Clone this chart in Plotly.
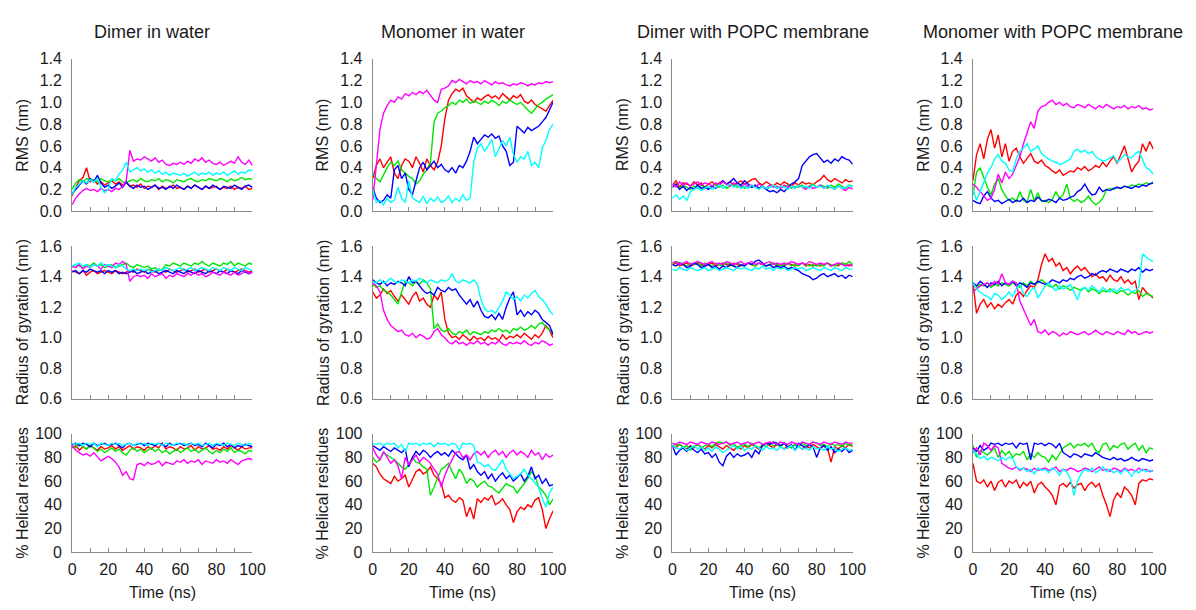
import plotly.graph_objects as go

# ---------------- time axis (ns) ----------------
T = list(range(0, 101, 2))

COL_TITLES = ["Dimer in water", "Monomer in water", "Dimer with POPC membrane", "Monomer with POPC membrane"]
ROW_TITLES = ["RMS (nm)", "Radius of gyration (nm)", "% Helical residues"]
X_TITLE = "Time (ns)"
SERIES = ["red", "green", "blue", "magenta", "cyan"]
COLORS = {"red": "#ff0000", "green": "#00e600", "blue": "#0000ff", "magenta": "#ff00ff", "cyan": "#00ffff"}

# ---------------- Row 1: RMS (nm) ----------------
rms_dw_red = [0.14, 0.22, 0.28, 0.31, 0.40, 0.27, 0.29, 0.25, 0.27, 0.24,
              0.26, 0.28, 0.25, 0.27, 0.24, 0.26, 0.23, 0.24, 0.22, 0.25,
              0.21, 0.23, 0.22, 0.24, 0.20, 0.23, 0.21, 0.22, 0.24, 0.21,
              0.22, 0.20, 0.23, 0.21, 0.24, 0.22, 0.20, 0.23, 0.21, 0.22,
              0.23, 0.20, 0.22, 0.21, 0.23, 0.20, 0.22, 0.21, 0.23, 0.20, 0.21]
rms_dw_green = [0.20, 0.26, 0.29, 0.27, 0.30, 0.28, 0.29, 0.27, 0.30, 0.28,
                0.27, 0.29, 0.28, 0.30, 0.27, 0.26, 0.28, 0.29, 0.27, 0.30,
                0.28, 0.27, 0.29, 0.28, 0.30, 0.27, 0.29, 0.28, 0.26, 0.29,
                0.28, 0.27, 0.29, 0.30, 0.28, 0.27, 0.29, 0.28, 0.30, 0.29,
                0.28, 0.30, 0.29, 0.27, 0.30, 0.28, 0.29, 0.31, 0.29, 0.30, 0.29]
rms_dw_blue = [0.16, 0.20, 0.24, 0.28, 0.25, 0.30, 0.27, 0.33, 0.26, 0.22,
               0.24, 0.21, 0.23, 0.26, 0.22, 0.27, 0.23, 0.21, 0.24, 0.22,
               0.23, 0.20, 0.22, 0.24, 0.21, 0.22, 0.20, 0.23, 0.21, 0.24,
               0.22, 0.20, 0.23, 0.21, 0.24, 0.22, 0.20, 0.23, 0.21, 0.24,
               0.22, 0.20, 0.23, 0.22, 0.21, 0.24, 0.22, 0.20, 0.23, 0.24, 0.22]
rms_dw_magenta = [0.06, 0.12, 0.16, 0.19, 0.21, 0.19, 0.20, 0.18, 0.21, 0.19,
                  0.20, 0.18, 0.21, 0.20, 0.23, 0.28, 0.56, 0.46, 0.48, 0.47,
                  0.50, 0.48, 0.46, 0.49, 0.45, 0.47, 0.43, 0.42, 0.44, 0.43,
                  0.45, 0.43, 0.46, 0.44, 0.48, 0.46, 0.49, 0.45, 0.47, 0.44,
                  0.43, 0.45, 0.42, 0.44, 0.46, 0.44, 0.50, 0.45, 0.43, 0.47, 0.42]
rms_dw_cyan = [0.15, 0.22, 0.25, 0.28, 0.26, 0.29, 0.27, 0.30, 0.22, 0.17,
               0.20, 0.30, 0.28, 0.34, 0.38, 0.45, 0.36, 0.38, 0.40, 0.37,
               0.39, 0.36, 0.38, 0.35, 0.37, 0.34, 0.36, 0.33, 0.35, 0.34,
               0.33, 0.35, 0.32, 0.34, 0.36, 0.33, 0.35, 0.34, 0.36, 0.33,
               0.35, 0.34, 0.36, 0.33, 0.35, 0.37, 0.34, 0.36, 0.35, 0.38, 0.37]

rms_mw_red = [0.30, 0.42, 0.48, 0.40, 0.45, 0.50, 0.35, 0.30, 0.42, 0.48,
              0.46, 0.40, 0.50, 0.44, 0.36, 0.48, 0.42, 0.38, 0.45, 0.60,
              0.85, 1.02, 1.08, 1.12, 1.10, 1.13, 1.06, 1.03, 1.00, 1.04,
              1.02, 1.05, 1.07, 1.04, 1.06, 1.03, 1.08, 1.05, 1.02, 1.06,
              1.04, 1.07, 1.01, 0.99, 1.02, 0.98, 0.96, 0.94, 0.92, 0.97, 1.02]
rms_mw_green = [0.35, 0.30, 0.27, 0.34, 0.40, 0.45, 0.42, 0.46, 0.38, 0.35,
                0.32, 0.30, 0.25, 0.28, 0.34, 0.38, 0.45, 0.82, 0.90, 0.92,
                0.95, 0.97, 1.00, 0.98, 1.02, 1.00, 1.03, 0.99, 1.01, 1.00,
                0.98, 1.01, 0.99, 1.02, 1.00, 0.97, 1.01, 0.99, 1.02, 1.00,
                0.98, 1.00, 0.96, 0.93, 0.90, 0.94, 0.98, 1.00, 1.03, 1.05, 1.07]
rms_mw_blue = [0.22, 0.12, 0.08, 0.10, 0.15, 0.12, 0.38, 0.42, 0.30, 0.35,
               0.20, 0.15, 0.28, 0.40, 0.45, 0.38, 0.42, 0.46, 0.40, 0.43,
               0.38, 0.36, 0.40, 0.35, 0.42, 0.40, 0.46, 0.55, 0.68, 0.62,
               0.66, 0.70, 0.68, 0.71, 0.67, 0.69, 0.60, 0.55, 0.42, 0.45,
               0.78, 0.75, 0.72, 0.77, 0.74, 0.76, 0.78, 0.82, 0.86, 0.93, 1.00]
rms_mw_magenta = [0.10, 0.45, 0.75, 0.90, 0.97, 1.02, 1.00, 1.05, 1.03, 1.08,
                  1.06, 1.09, 1.07, 1.10, 1.08, 1.11, 1.06, 1.02, 1.00, 1.12,
                  1.13, 1.15, 1.20, 1.18, 1.21, 1.19, 1.17, 1.20, 1.18, 1.19,
                  1.17, 1.20, 1.18, 1.16, 1.19, 1.17, 1.18, 1.16, 1.15, 1.17,
                  1.16, 1.18, 1.17, 1.15, 1.17, 1.16, 1.18, 1.17, 1.19, 1.18, 1.19]
rms_mw_cyan = [0.20, 0.08, 0.10, 0.06, 0.12, 0.08, 0.10, 0.22, 0.12, 0.08,
               0.28, 0.12, 0.10, 0.08, 0.14, 0.07, 0.12, 0.09, 0.13, 0.08,
               0.10, 0.14, 0.08, 0.12, 0.09, 0.15, 0.10, 0.12, 0.45, 0.58,
               0.62, 0.55, 0.60, 0.66, 0.50, 0.58, 0.65, 0.60, 0.68, 0.52,
               0.45, 0.50, 0.48, 0.55, 0.42, 0.45, 0.40, 0.58, 0.65, 0.75, 0.80]

rms_dp_red = [0.24, 0.28, 0.22, 0.26, 0.25, 0.23, 0.27, 0.24, 0.26, 0.22,
              0.25, 0.27, 0.24, 0.26, 0.28, 0.25, 0.27, 0.24, 0.26, 0.28,
              0.25, 0.27, 0.29, 0.30, 0.26, 0.24, 0.27, 0.25, 0.23, 0.26,
              0.24, 0.27, 0.25, 0.23, 0.26, 0.24, 0.27, 0.25, 0.26, 0.24,
              0.27, 0.29, 0.33, 0.29, 0.27, 0.30, 0.28, 0.26, 0.29, 0.27, 0.28]
rms_dp_green = [0.22, 0.25, 0.21, 0.24, 0.22, 0.20, 0.23, 0.21, 0.24, 0.22,
                0.21, 0.23, 0.25, 0.22, 0.24, 0.21, 0.23, 0.25, 0.22, 0.24,
                0.21, 0.23, 0.22, 0.24, 0.21, 0.23, 0.20, 0.22, 0.24, 0.21,
                0.23, 0.22, 0.24, 0.21, 0.23, 0.22, 0.24, 0.21, 0.23, 0.25,
                0.22, 0.24, 0.23, 0.21, 0.24, 0.22, 0.25, 0.23, 0.21, 0.24, 0.23]
rms_dp_blue = [0.22, 0.25, 0.20, 0.23, 0.19, 0.22, 0.20, 0.24, 0.21, 0.22,
               0.20, 0.23, 0.21, 0.24, 0.28, 0.25, 0.27, 0.30, 0.26, 0.24,
               0.28, 0.25, 0.22, 0.24, 0.21, 0.23, 0.20, 0.18, 0.19, 0.17,
               0.20, 0.18, 0.22, 0.25, 0.27, 0.30, 0.42, 0.46, 0.50, 0.52,
               0.53, 0.49, 0.45, 0.47, 0.44, 0.48, 0.46, 0.50, 0.48, 0.47, 0.43]
rms_dp_magenta = [0.25, 0.22, 0.27, 0.24, 0.26, 0.23, 0.25, 0.27, 0.24, 0.26,
                  0.25, 0.23, 0.26, 0.24, 0.27, 0.25, 0.23, 0.26, 0.24, 0.22,
                  0.25, 0.23, 0.24, 0.22, 0.25, 0.23, 0.21, 0.24, 0.22, 0.23,
                  0.21, 0.24, 0.22, 0.23, 0.21, 0.24, 0.22, 0.20, 0.23, 0.21,
                  0.22, 0.24, 0.21, 0.23, 0.22, 0.20, 0.23, 0.21, 0.19, 0.22, 0.20]
rms_dp_cyan = [0.12, 0.15, 0.11, 0.14, 0.10, 0.18, 0.20, 0.22, 0.19, 0.21,
               0.23, 0.20, 0.22, 0.24, 0.21, 0.23, 0.25, 0.22, 0.24, 0.21,
               0.23, 0.21, 0.24, 0.22, 0.20, 0.23, 0.21, 0.22, 0.24, 0.21,
               0.23, 0.22, 0.20, 0.23, 0.21, 0.24, 0.22, 0.23, 0.21, 0.24,
               0.22, 0.23, 0.21, 0.24, 0.22, 0.20, 0.23, 0.21, 0.22, 0.24, 0.22]

rms_mp_red = [0.28, 0.52, 0.62, 0.48, 0.66, 0.75, 0.58, 0.70, 0.50, 0.62,
              0.46, 0.55, 0.58, 0.50, 0.44, 0.48, 0.53, 0.46, 0.44, 0.47,
              0.42, 0.40, 0.37, 0.35, 0.38, 0.33, 0.35, 0.37, 0.36, 0.40,
              0.38, 0.41, 0.37, 0.39, 0.42, 0.40, 0.45, 0.41, 0.46, 0.50,
              0.44, 0.52, 0.60, 0.48, 0.36, 0.42, 0.46, 0.62, 0.55, 0.64, 0.57]
rms_mp_green = [0.15, 0.36, 0.40, 0.30, 0.22, 0.15, 0.25, 0.30, 0.20, 0.14,
                0.10, 0.12, 0.09, 0.18, 0.10, 0.08, 0.20, 0.10, 0.17, 0.09,
                0.10, 0.08, 0.11, 0.18, 0.12, 0.15, 0.25, 0.12, 0.09, 0.11,
                0.08, 0.10, 0.14, 0.09, 0.06, 0.08, 0.12, 0.20, 0.21, 0.20,
                0.22, 0.21, 0.23, 0.22, 0.24, 0.23, 0.25, 0.24, 0.26, 0.25, 0.27]
rms_mp_blue = [0.10, 0.08, 0.07, 0.14, 0.18, 0.12, 0.09, 0.10, 0.07, 0.09,
               0.11, 0.08, 0.10, 0.09, 0.12, 0.08, 0.10, 0.09, 0.13, 0.10,
               0.09, 0.11, 0.10, 0.08, 0.12, 0.10, 0.11, 0.13, 0.14, 0.18,
               0.20, 0.25, 0.19, 0.15, 0.16, 0.22, 0.18, 0.20, 0.19, 0.21,
               0.22, 0.21, 0.23, 0.22, 0.21, 0.23, 0.22, 0.24, 0.23, 0.25, 0.26]
rms_mp_magenta = [0.25, 0.22, 0.18, 0.14, 0.10, 0.12, 0.20, 0.34, 0.26, 0.36,
                  0.30, 0.34, 0.42, 0.50, 0.62, 0.72, 0.82, 0.76, 0.92, 0.96,
                  0.97, 1.00, 1.02, 0.98, 1.00, 0.97, 0.99, 0.96, 0.95, 0.98,
                  0.97, 0.95, 0.98, 0.96, 0.94, 0.97, 0.95, 0.98, 0.96, 0.94,
                  0.96, 0.95, 0.97, 0.94, 0.96, 0.95, 0.97, 0.94, 0.95, 0.93, 0.94]
rms_mp_cyan = [0.20, 0.10, 0.18, 0.26, 0.35, 0.40, 0.48, 0.52, 0.46, 0.44,
               0.38, 0.36, 0.48, 0.55, 0.58, 0.62, 0.55, 0.57, 0.60, 0.53,
               0.50, 0.48, 0.46, 0.45, 0.43, 0.44, 0.46, 0.48, 0.55, 0.57,
               0.54, 0.56, 0.53, 0.55, 0.50, 0.48, 0.46, 0.47, 0.49, 0.51,
               0.45, 0.48, 0.52, 0.50, 0.49, 0.53, 0.55, 0.47, 0.40, 0.38, 0.34]

# ---------------- Row 2: Radius of gyration (nm) ----------------
rg_dw_red = [1.44, 1.43, 1.42, 1.44, 1.41, 1.43, 1.44, 1.42, 1.43, 1.44,
             1.43, 1.42, 1.44, 1.43, 1.42, 1.43, 1.44, 1.43, 1.45, 1.44,
             1.43, 1.45, 1.44, 1.43, 1.45, 1.44, 1.43, 1.45, 1.44, 1.43,
             1.44, 1.45, 1.43, 1.44, 1.45, 1.43, 1.44, 1.45, 1.43, 1.44,
             1.45, 1.44, 1.43, 1.45, 1.44, 1.43, 1.44, 1.45, 1.44, 1.43, 1.44]
rg_dw_green = [1.46, 1.48, 1.47, 1.46, 1.48, 1.47, 1.49, 1.47, 1.48, 1.46,
               1.47, 1.48, 1.46, 1.47, 1.48, 1.49, 1.47, 1.46, 1.48, 1.47,
               1.46, 1.47, 1.45, 1.46, 1.44, 1.45, 1.48, 1.47, 1.49, 1.48,
               1.47, 1.49, 1.48, 1.47, 1.49, 1.48, 1.50, 1.48, 1.47, 1.49,
               1.48, 1.47, 1.49, 1.48, 1.50, 1.47, 1.49, 1.48, 1.47, 1.49, 1.48]
rg_dw_blue = [1.43, 1.44, 1.42, 1.44, 1.43, 1.45, 1.44, 1.43, 1.44, 1.42,
              1.44, 1.43, 1.44, 1.42, 1.43, 1.42, 1.43, 1.44, 1.42, 1.43,
              1.44, 1.42, 1.43, 1.44, 1.42, 1.43, 1.44, 1.43, 1.42, 1.44,
              1.43, 1.42, 1.44, 1.43, 1.42, 1.44, 1.43, 1.42, 1.44, 1.43,
              1.42, 1.44, 1.43, 1.42, 1.44, 1.43, 1.42, 1.44, 1.43, 1.42, 1.43]
rg_dw_magenta = [1.47, 1.46, 1.48, 1.45, 1.47, 1.46, 1.48, 1.47, 1.45, 1.48,
                 1.47, 1.46, 1.49, 1.48, 1.50, 1.48, 1.37, 1.40, 1.41, 1.40,
                 1.41, 1.39, 1.42, 1.40, 1.41, 1.42, 1.39, 1.41, 1.40, 1.42,
                 1.41, 1.40, 1.42, 1.41, 1.43, 1.41, 1.42, 1.40, 1.41, 1.43,
                 1.42, 1.41, 1.43, 1.42, 1.41, 1.43, 1.41, 1.42, 1.44, 1.42, 1.43]
rg_dw_cyan = [1.47, 1.48, 1.49, 1.47, 1.48, 1.46, 1.48, 1.47, 1.49, 1.47,
              1.48, 1.47, 1.46, 1.48, 1.47, 1.45, 1.44, 1.45, 1.44, 1.45,
              1.44, 1.45, 1.43, 1.44, 1.45, 1.44, 1.46, 1.45, 1.44, 1.45,
              1.46, 1.44, 1.45, 1.46, 1.44, 1.45, 1.46, 1.45, 1.44, 1.46,
              1.45, 1.44, 1.46, 1.45, 1.44, 1.46, 1.45, 1.44, 1.46, 1.45, 1.44]

rg_mw_red = [1.30, 1.26, 1.28, 1.32, 1.29, 1.31, 1.27, 1.24, 1.28, 1.25,
             1.22, 1.27, 1.30, 1.24, 1.26, 1.22, 1.20, 1.28, 1.25, 1.30,
             1.12, 1.03, 1.00, 1.01, 0.99, 1.02, 1.00, 0.98, 1.01, 0.99,
             1.00, 0.98, 1.01, 0.99, 1.00, 0.98, 1.02, 0.99, 1.01, 1.00,
             1.02, 1.00, 1.03, 1.01, 0.99, 1.02, 1.00, 1.03, 1.08, 1.05, 1.00]
rg_mw_green = [1.35, 1.33, 1.34, 1.31, 1.30, 1.28, 1.25, 1.22, 1.30, 1.37,
               1.36, 1.34, 1.37, 1.35, 1.38, 1.36, 1.32, 1.06, 1.09, 1.05,
               1.04, 1.06, 1.03, 1.02, 1.04, 1.03, 1.05, 1.02, 1.04, 1.03,
               1.02, 1.04, 1.03, 1.05, 1.04, 1.06, 1.04, 1.05, 1.03, 1.06,
               1.05, 1.07, 1.05, 1.06, 1.08, 1.06, 1.09, 1.10, 1.07, 1.05, 1.04]
rg_mw_blue = [1.38, 1.36, 1.35, 1.37, 1.34, 1.36, 1.35, 1.37, 1.36, 1.34,
              1.40, 1.36, 1.37, 1.34, 1.31, 1.29, 1.30, 1.28, 1.33, 1.31,
              1.30, 1.33, 1.31, 1.32, 1.28, 1.25, 1.22, 1.25, 1.20, 1.24,
              1.18, 1.14, 1.13, 1.15, 1.12, 1.16, 1.12, 1.20, 1.26, 1.30,
              1.15, 1.18, 1.14, 1.17, 1.15, 1.18, 1.16, 1.12, 1.10, 1.08, 1.02]
rg_mw_magenta = [1.36, 1.34, 1.30, 1.18, 1.12, 1.08, 1.06, 1.04, 1.05, 1.02,
                 1.01, 1.03, 1.00, 1.02, 1.01, 0.99, 1.00, 1.04, 1.06, 1.02,
                 1.00, 0.97, 0.96, 0.98, 0.96, 0.97, 0.95, 0.97, 0.96, 0.98,
                 0.96, 0.97, 0.95, 0.97, 0.96, 0.98, 0.96, 0.95, 0.97, 0.96,
                 0.97, 0.96, 0.98, 0.96, 0.95, 0.97, 0.96, 0.98, 0.97, 0.95, 0.96]
rg_mw_cyan = [1.37, 1.36, 1.38, 1.36, 1.37, 1.39, 1.37, 1.36, 1.38, 1.37,
              1.36, 1.38, 1.37, 1.39, 1.37, 1.36, 1.38, 1.37, 1.36, 1.38,
              1.37, 1.38, 1.42, 1.37, 1.36, 1.38, 1.37, 1.36, 1.38, 1.35,
              1.25, 1.19, 1.17, 1.18, 1.16, 1.20, 1.24, 1.30, 1.28, 1.25,
              1.27, 1.24, 1.28, 1.26, 1.29, 1.31, 1.27, 1.25, 1.22, 1.18, 1.15]

rg_dp_red = [1.48, 1.49, 1.47, 1.48, 1.49, 1.47, 1.48, 1.49, 1.48, 1.47,
             1.48, 1.49, 1.47, 1.48, 1.49, 1.48, 1.47, 1.49, 1.48, 1.47,
             1.48, 1.49, 1.48, 1.47, 1.49, 1.48, 1.47, 1.48, 1.49, 1.47,
             1.48, 1.47, 1.49, 1.48, 1.47, 1.48, 1.49, 1.47, 1.48, 1.47,
             1.48, 1.47, 1.48, 1.49, 1.47, 1.48, 1.47, 1.49, 1.48, 1.47, 1.48]
rg_dp_green = [1.48, 1.50, 1.49, 1.48, 1.47, 1.49, 1.48, 1.50, 1.47, 1.49,
               1.48, 1.47, 1.49, 1.48, 1.47, 1.49, 1.48, 1.47, 1.49, 1.48,
               1.47, 1.49, 1.48, 1.47, 1.49, 1.48, 1.47, 1.48, 1.49, 1.48,
               1.47, 1.48, 1.49, 1.47, 1.48, 1.47, 1.49, 1.48, 1.47, 1.48,
               1.47, 1.48, 1.47, 1.49, 1.48, 1.47, 1.48, 1.49, 1.48, 1.50, 1.48]
rg_dp_blue = [1.48, 1.47, 1.49, 1.48, 1.46, 1.47, 1.49, 1.48, 1.46, 1.47,
              1.48, 1.46, 1.47, 1.45, 1.47, 1.46, 1.48, 1.47, 1.46, 1.48,
              1.47, 1.49, 1.48, 1.50, 1.51, 1.49, 1.47, 1.48, 1.46, 1.47,
              1.46, 1.47, 1.45, 1.46, 1.45, 1.44, 1.42, 1.41, 1.40, 1.38,
              1.39, 1.41, 1.42, 1.40, 1.41, 1.42, 1.40, 1.41, 1.39, 1.41, 1.40]
rg_dp_magenta = [1.49, 1.50, 1.48, 1.49, 1.50, 1.48, 1.49, 1.50, 1.49, 1.48,
                 1.49, 1.50, 1.48, 1.49, 1.48, 1.50, 1.49, 1.48, 1.49, 1.50,
                 1.48, 1.49, 1.50, 1.48, 1.49, 1.48, 1.49, 1.50, 1.48, 1.49,
                 1.48, 1.49, 1.48, 1.50, 1.49, 1.48, 1.49, 1.48, 1.50, 1.49,
                 1.48, 1.49, 1.48, 1.49, 1.47, 1.48, 1.49, 1.48, 1.47, 1.48, 1.47]
rg_dp_cyan = [1.45, 1.44, 1.46, 1.45, 1.44, 1.46, 1.45, 1.44, 1.45, 1.46,
              1.44, 1.45, 1.46, 1.44, 1.45, 1.46, 1.45, 1.44, 1.46, 1.45,
              1.46, 1.45, 1.44, 1.46, 1.45, 1.47, 1.45, 1.46, 1.44, 1.46,
              1.45, 1.46, 1.44, 1.45, 1.46, 1.45, 1.46, 1.44, 1.45, 1.46,
              1.45, 1.44, 1.46, 1.45, 1.44, 1.46, 1.45, 1.44, 1.46, 1.45, 1.45]

rg_mp_red = [1.36, 1.16, 1.22, 1.25, 1.20, 1.23, 1.19, 1.22, 1.20, 1.23,
             1.25, 1.22, 1.28, 1.30, 1.27, 1.31, 1.34, 1.33, 1.38, 1.48,
             1.55, 1.50, 1.52, 1.47, 1.49, 1.44, 1.46, 1.42, 1.45, 1.47,
             1.44, 1.46, 1.43, 1.40, 1.42, 1.39, 1.40, 1.37, 1.41, 1.38,
             1.37, 1.40, 1.36, 1.38, 1.35, 1.37, 1.25, 1.33, 1.30, 1.28, 1.26]
rg_mp_green = [1.36, 1.33, 1.35, 1.34, 1.36, 1.33, 1.35, 1.34, 1.36, 1.35,
               1.34, 1.36, 1.35, 1.33, 1.36, 1.34, 1.37, 1.35, 1.36, 1.38,
               1.36, 1.34, 1.33, 1.35, 1.32, 1.34, 1.33, 1.31, 1.33, 1.32,
               1.31, 1.33, 1.30, 1.32, 1.31, 1.29, 1.31, 1.30, 1.32, 1.30,
               1.29, 1.31, 1.30, 1.28, 1.30, 1.29, 1.31, 1.27, 1.29, 1.28, 1.27]
rg_mp_blue = [1.36, 1.34, 1.37, 1.35, 1.33, 1.36, 1.35, 1.37, 1.34, 1.36,
              1.35, 1.37, 1.34, 1.36, 1.35, 1.33, 1.36, 1.35, 1.37, 1.36,
              1.35, 1.36, 1.38, 1.37, 1.36, 1.38, 1.37, 1.39, 1.38, 1.40,
              1.41, 1.39, 1.40, 1.42, 1.41, 1.43, 1.44, 1.43, 1.45, 1.44,
              1.43, 1.45, 1.44, 1.43, 1.45, 1.44, 1.46, 1.43, 1.45, 1.44, 1.45]
rg_mp_magenta = [1.30, 1.32, 1.34, 1.35, 1.36, 1.34, 1.37, 1.35, 1.42, 1.36,
                 1.35, 1.37, 1.36, 1.24, 1.19, 1.14, 1.08, 1.12, 1.04, 1.03,
                 1.05, 1.02, 1.04, 1.03, 1.01, 1.03, 1.02, 1.04, 1.03, 1.02,
                 1.03, 1.04, 1.02, 1.03, 1.05, 1.03, 1.02, 1.04, 1.03, 1.02,
                 1.04, 1.03, 1.02, 1.05, 1.03, 1.04, 1.02, 1.03, 1.04, 1.03, 1.04]
rg_mp_cyan = [1.36, 1.32, 1.30, 1.28, 1.27, 1.25, 1.29, 1.28, 1.25, 1.27,
              1.30, 1.27, 1.32, 1.35, 1.29, 1.27, 1.31, 1.33, 1.26, 1.30,
              1.34, 1.36, 1.33, 1.31, 1.34, 1.32, 1.33, 1.35, 1.30, 1.25,
              1.32, 1.33, 1.31, 1.34, 1.32, 1.30, 1.33, 1.31, 1.30, 1.32,
              1.30, 1.33, 1.31, 1.32, 1.30, 1.31, 1.33, 1.55, 1.53, 1.51, 1.50]

# ---------------- Row 3: % Helical residues ----------------
hx_dw_red = [88, 90, 86, 89, 87, 90, 88, 86, 89, 87,
             88, 90, 87, 89, 86, 88, 90, 87, 89, 88,
             86, 89, 87, 90, 88, 92, 87, 89, 88, 86,
             89, 87, 88, 90, 86, 89, 87, 88, 90, 87,
             88, 86, 89, 87, 90, 88, 86, 89, 87, 88, 88]
hx_dw_green = [90, 88, 91, 89, 87, 90, 88, 85, 87, 84,
               86, 88, 85, 87, 84, 82, 86, 88, 85, 87,
               84, 86, 88, 85, 87, 84, 86, 83, 85, 87,
               84, 86, 88, 85, 87, 84, 86, 88, 85, 83,
               86, 84, 87, 85, 88, 84, 86, 85, 83, 86, 85]
hx_dw_blue = [91, 92, 90, 92, 91, 89, 92, 90, 91, 92,
              90, 91, 92, 90, 88, 91, 92, 90, 91, 92,
              90, 92, 91, 90, 92, 91, 89, 92, 90, 91,
              92, 90, 91, 92, 90, 91, 89, 92, 90, 88,
              91, 90, 92, 89, 91, 88, 90, 89, 91, 90, 89]
hx_dw_magenta = [90, 86, 84, 82, 83, 81, 84, 80, 77, 79,
                 81, 79, 76, 72, 65, 68, 62, 61, 74, 75,
                 73, 76, 74, 75, 77, 73, 76, 75, 74, 77,
                 76, 78, 75, 77, 76, 78, 74, 77, 76, 75,
                 78, 76, 77, 75, 78, 76, 74, 77, 78, 79, 78]
hx_dw_cyan = [92, 91, 92, 90, 92, 91, 92, 89, 92, 91,
              90, 92, 91, 92, 90, 91, 92, 90, 92, 91,
              92, 90, 92, 91, 92, 90, 92, 91, 90, 92,
              91, 92, 90, 92, 91, 92, 90, 91, 92, 90,
              92, 91, 90, 92, 91, 90, 92, 91, 90, 92, 91]

hx_mw_red = [75, 72, 66, 62, 60, 58, 64, 60, 62, 65,
             55, 62, 68, 70, 66, 68, 72, 65, 62, 58,
             46, 48, 44, 42, 46, 44, 30, 38, 28, 45,
             42, 46, 44, 48, 40, 42, 45, 40, 36, 25,
             34, 38, 36, 40, 38, 44, 46, 36, 20, 28, 35]
hx_mw_green = [80, 76, 78, 84, 82, 80, 78, 75, 72, 70,
               74, 80, 76, 75, 72, 70, 48, 55, 62, 70,
               72, 75, 68, 62, 70, 66, 58, 62, 60, 55,
               58, 60, 56, 55, 52, 50, 54, 58, 56, 55,
               50, 54, 58, 62, 68, 64, 55, 52, 48, 40, 45]
hx_mw_blue = [90, 88, 86, 89, 87, 85, 88, 86, 84, 87,
              72, 80, 85, 82, 86, 84, 80, 83, 85, 82,
              84, 81, 86, 83, 80, 78, 82, 70, 74, 68,
              65, 68, 62, 66, 60, 64, 67, 62, 65, 60,
              63, 66, 60, 64, 72, 62, 65, 58, 62, 56, 57]
hx_mw_magenta = [88, 82, 78, 85, 80, 75, 78, 73, 62, 80,
                 74, 78, 82, 76, 80, 78, 75, 70, 66, 55,
                 65, 72, 78, 84, 85, 80, 82, 78, 83, 85,
                 82, 85, 80, 84, 86, 82, 85, 80, 84, 86,
                 82, 85, 83, 80, 86, 82, 84, 78, 83, 80, 82]
hx_mw_cyan = [92, 91, 92, 90, 92, 91, 92, 88, 91, 85,
              92, 91, 92, 90, 92, 91, 92, 89, 92, 91,
              92, 90, 92, 91, 86, 92, 91, 92, 90, 76,
              75, 72, 74, 70, 69, 73, 78, 70, 66, 62,
              64, 66, 70, 65, 62, 58, 55, 45, 38, 50, 55]

hx_dp_red = [90, 88, 91, 89, 87, 90, 88, 91, 89, 87,
             90, 88, 91, 89, 87, 90, 88, 86, 89, 87,
             90, 88, 91, 89, 87, 90, 92, 90, 88, 91,
             89, 87, 90, 88, 91, 89, 87, 90, 88, 91,
             89, 87, 90, 88, 76, 89, 87, 90, 88, 91, 89]
hx_dp_green = [92, 90, 91, 88, 90, 86, 89, 91, 88, 90,
               91, 89, 92, 93, 92, 93, 90, 92, 88, 90,
               91, 89, 92, 90, 88, 91, 89, 92, 90, 91,
               89, 92, 90, 88, 91, 89, 92, 90, 91, 93,
               92, 90, 91, 89, 92, 90, 91, 89, 92, 90, 91]
hx_dp_blue = [90, 82, 86, 88, 85, 89, 86, 84, 87, 83,
              84, 80, 83, 76, 73, 81, 84, 80, 83, 81,
              82, 84, 80, 86, 83, 90, 92, 91, 93, 92,
              90, 92, 88, 91, 86, 92, 90, 88, 91, 89,
              80, 88, 90, 86, 89, 84, 87, 85, 88, 84, 86]
hx_dp_magenta = [92, 91, 93, 92, 91, 93, 92, 91, 93, 92,
                 91, 93, 92, 91, 92, 93, 91, 92, 93, 91,
                 92, 93, 91, 92, 93, 91, 92, 93, 92, 91,
                 93, 92, 91, 93, 92, 91, 93, 92, 91, 93,
                 92, 91, 93, 92, 91, 93, 92, 91, 93, 92, 92]
hx_dp_cyan = [90, 88, 87, 89, 86, 88, 90, 87, 89, 86,
              88, 85, 89, 87, 84, 86, 88, 90, 87, 89,
              86, 88, 87, 90, 88, 86, 89, 87, 88, 86,
              89, 87, 88, 90, 86, 89, 87, 88, 86, 89,
              87, 88, 86, 89, 87, 88, 85, 87, 88, 86, 87]

hx_mp_red = [75, 60, 58, 61, 55, 60, 52, 59, 61, 55,
             60, 58, 61, 54, 59, 56, 60, 50, 57, 59,
             55, 52, 48, 40, 56, 58, 55, 59, 54, 57,
             58, 52, 57, 59, 55, 58, 48, 40, 30, 44,
             50, 46, 55, 52, 48, 40, 58, 61, 60, 62, 61]
hx_mp_green = [90, 80, 86, 84, 82, 85, 88, 80, 86, 82,
               85, 80, 83, 82, 85, 78, 83, 80, 84, 81,
               80, 76, 82, 78, 83, 88, 90, 92, 88, 91,
               90, 92, 89, 92, 86, 84, 91, 92, 86, 90,
               88, 91, 92, 87, 90, 92, 86, 90, 84, 88, 87]
hx_mp_blue = [88, 85, 90, 86, 88, 92, 91, 92, 90, 92,
              91, 92, 88, 92, 91, 92, 78, 92, 91, 92,
              90, 92, 91, 88, 92, 84, 82, 80, 83, 82,
              80, 83, 82, 81, 84, 82, 80, 79, 78, 80,
              78, 79, 77, 78, 80, 78, 77, 79, 78, 77, 78]
hx_mp_magenta = [84, 88, 82, 92, 90, 86, 90, 88, 75, 73,
                 71, 70, 72, 69, 71, 70, 68, 71, 69, 70,
                 71, 69, 70, 72, 68, 70, 69, 71, 70, 68,
                 69, 71, 70, 68, 70, 72, 69, 70, 68, 71,
                 70, 68, 71, 69, 70, 68, 71, 69, 70, 68, 69]
hx_mp_cyan = [86, 82, 79, 81, 78, 80, 79, 77, 80, 78,
              80, 79, 72, 70, 71, 68, 70, 66, 71, 69,
              70, 67, 71, 69, 65, 70, 68, 62, 48, 60,
              66, 70, 68, 71, 67, 69, 72, 68, 70, 67,
              69, 66, 70, 68, 64, 69, 67, 70, 68, 69, 68]

# Y-axis ticks per row
RMS_TICKS = [0.0, 0.2, 0.4, 0.6, 0.8, 1.0, 1.2, 1.4]
RG_TICKS = [0.6, 0.8, 1.0, 1.2, 1.4, 1.6]
HX_TICKS = [0, 20, 40, 60, 80, 100]
X_TICKS = list(range(0, 101, 10))
X_TICK_LABELS = [str(v) if v % 20 == 0 else "" for v in X_TICKS]

PANELS = [
    [  # row 1
        [rms_dw_red, rms_dw_green, rms_dw_blue, rms_dw_magenta, rms_dw_cyan],
        [rms_mw_red, rms_mw_green, rms_mw_blue, rms_mw_magenta, rms_mw_cyan],
        [rms_dp_red, rms_dp_green, rms_dp_blue, rms_dp_magenta, rms_dp_cyan],
        [rms_mp_red, rms_mp_green, rms_mp_blue, rms_mp_magenta, rms_mp_cyan],
    ],
    [  # row 2
        [rg_dw_red, rg_dw_green, rg_dw_blue, rg_dw_magenta, rg_dw_cyan],
        [rg_mw_red, rg_mw_green, rg_mw_blue, rg_mw_magenta, rg_mw_cyan],
        [rg_dp_red, rg_dp_green, rg_dp_blue, rg_dp_magenta, rg_dp_cyan],
        [rg_mp_red, rg_mp_green, rg_mp_blue, rg_mp_magenta, rg_mp_cyan],
    ],
    [  # row 3
        [hx_dw_red, hx_dw_green, hx_dw_blue, hx_dw_magenta, hx_dw_cyan],
        [hx_mw_red, hx_mw_green, hx_mw_blue, hx_mw_magenta, hx_mw_cyan],
        [hx_dp_red, hx_dp_green, hx_dp_blue, hx_dp_magenta, hx_dp_cyan],
        [hx_mp_red, hx_mp_green, hx_mp_blue, hx_mp_magenta, hx_mp_cyan],
    ],
]
ROW_TICKS = [RMS_TICKS, RG_TICKS, HX_TICKS]
ROW_FMT = ["{:.1f}", "{:.1f}", "{:d}"]

for r, row in enumerate(PANELS):
    for c, panel in enumerate(row):
        for s, ys in enumerate(panel):
            if len(ys) != len(T):
                raise ValueError(f"row {r} col {c} series {SERIES[s]} has {len(ys)} values")

# ---------------- layout geometry ----------------
# The page body keeps its default 8px margin, so the figure is 16px smaller than
# the 1196x610 window; coordinates below are window pixels, shifted by the margin.
PAGE_MARGIN = 8
W, H = 1196 - 2 * PAGE_MARGIN, 610 - 2 * PAGE_MARGIN
COL_LEFT = [69, 374, 678, 983]
COL_RIGHT = [252, 557, 861, 1166]
ROW_TOP = [52, 245, 438]
ROW_BOTTOM = [209, 402, 560]

FONT = "Liberation Sans, Arial, Helvetica, sans-serif"
TXT = "#1a1a1a"
AXC = "#8a8a8a"

def px_x(v):
    return (v - PAGE_MARGIN) / W

def px_y(v):
    return 1 - (v - PAGE_MARGIN) / H

fig = go.Figure()
layout = dict(
    width=W, height=H, margin=dict(l=0, r=0, t=0, b=0),
    paper_bgcolor="white", plot_bgcolor="white", showlegend=False,
    font=dict(family=FONT, size=16, color=TXT),
)
annotations = []

for r in range(3):
    for c in range(4):
        k = r * 4 + c + 1
        xname = "x" if k == 1 else f"x{k}"
        yname = "y" if k == 1 else f"y{k}"
        for s, name in enumerate(SERIES):
            fig.add_trace(go.Scatter(
                x=T, y=PANELS[r][c][s], mode="lines",
                line=dict(color=COLORS[name], width=1.4),
                xaxis=xname, yaxis=yname, hoverinfo="skip",
            ))
        xkey = "xaxis" if k == 1 else f"xaxis{k}"
        ykey = "yaxis" if k == 1 else f"yaxis{k}"
        ticks = ROW_TICKS[r]
        layout[xkey] = dict(
            domain=[px_x(COL_LEFT[c]), px_x(COL_RIGHT[c])], anchor=yname,
            range=[0, 100], showgrid=False, zeroline=False,
            showline=True, linecolor=AXC, linewidth=1,
            ticks="inside", ticklen=4, tickcolor=AXC, tickwidth=1,
            tickmode="array", tickvals=X_TICKS, ticktext=X_TICK_LABELS,
            showticklabels=(r == 2), ticklabelstandoff=3,
            tickfont=dict(family=FONT, size=16, color=TXT),
        )
        layout[ykey] = dict(
            domain=[px_y(ROW_BOTTOM[r]), px_y(ROW_TOP[r])], anchor=xname,
            range=[ticks[0], ticks[-1]], showgrid=False, zeroline=False,
            showline=True, linecolor=AXC, linewidth=1, ticks="",
            tickmode="array", tickvals=ticks,
            ticktext=[ROW_FMT[r].format(v) for v in ticks],
            ticklabelstandoff=6,
            tickfont=dict(family=FONT, size=16, color=TXT),
        )
        annotations.append(dict(
            text=ROW_TITLES[r], xref="paper", yref="paper",
            x=px_x(COL_LEFT[c] - 50), y=px_y((ROW_TOP[r] + ROW_BOTTOM[r]) / 2),
            xanchor="center", yanchor="middle", textangle=-90, showarrow=False,
            font=dict(family=FONT, size=16, color=TXT),
        ))
        if r == 2:
            annotations.append(dict(
                text=X_TITLE, xref="paper", yref="paper",
                x=px_x((COL_LEFT[c] + COL_RIGHT[c]) / 2), y=px_y(601),
                xanchor="center", yanchor="middle", showarrow=False,
                font=dict(family=FONT, size=16, color=TXT),
            ))

for c in range(4):
    annotations.append(dict(
        text=COL_TITLES[c], xref="paper", yref="paper",
        x=px_x((COL_LEFT[c] + COL_RIGHT[c]) / 2 - 10), y=px_y(24),
        xanchor="center", yanchor="middle", showarrow=False,
        font=dict(family=FONT, size=18, color=TXT),
    ))

layout["annotations"] = annotations
fig.update_layout(**layout)
fig.write_html("out.html")
